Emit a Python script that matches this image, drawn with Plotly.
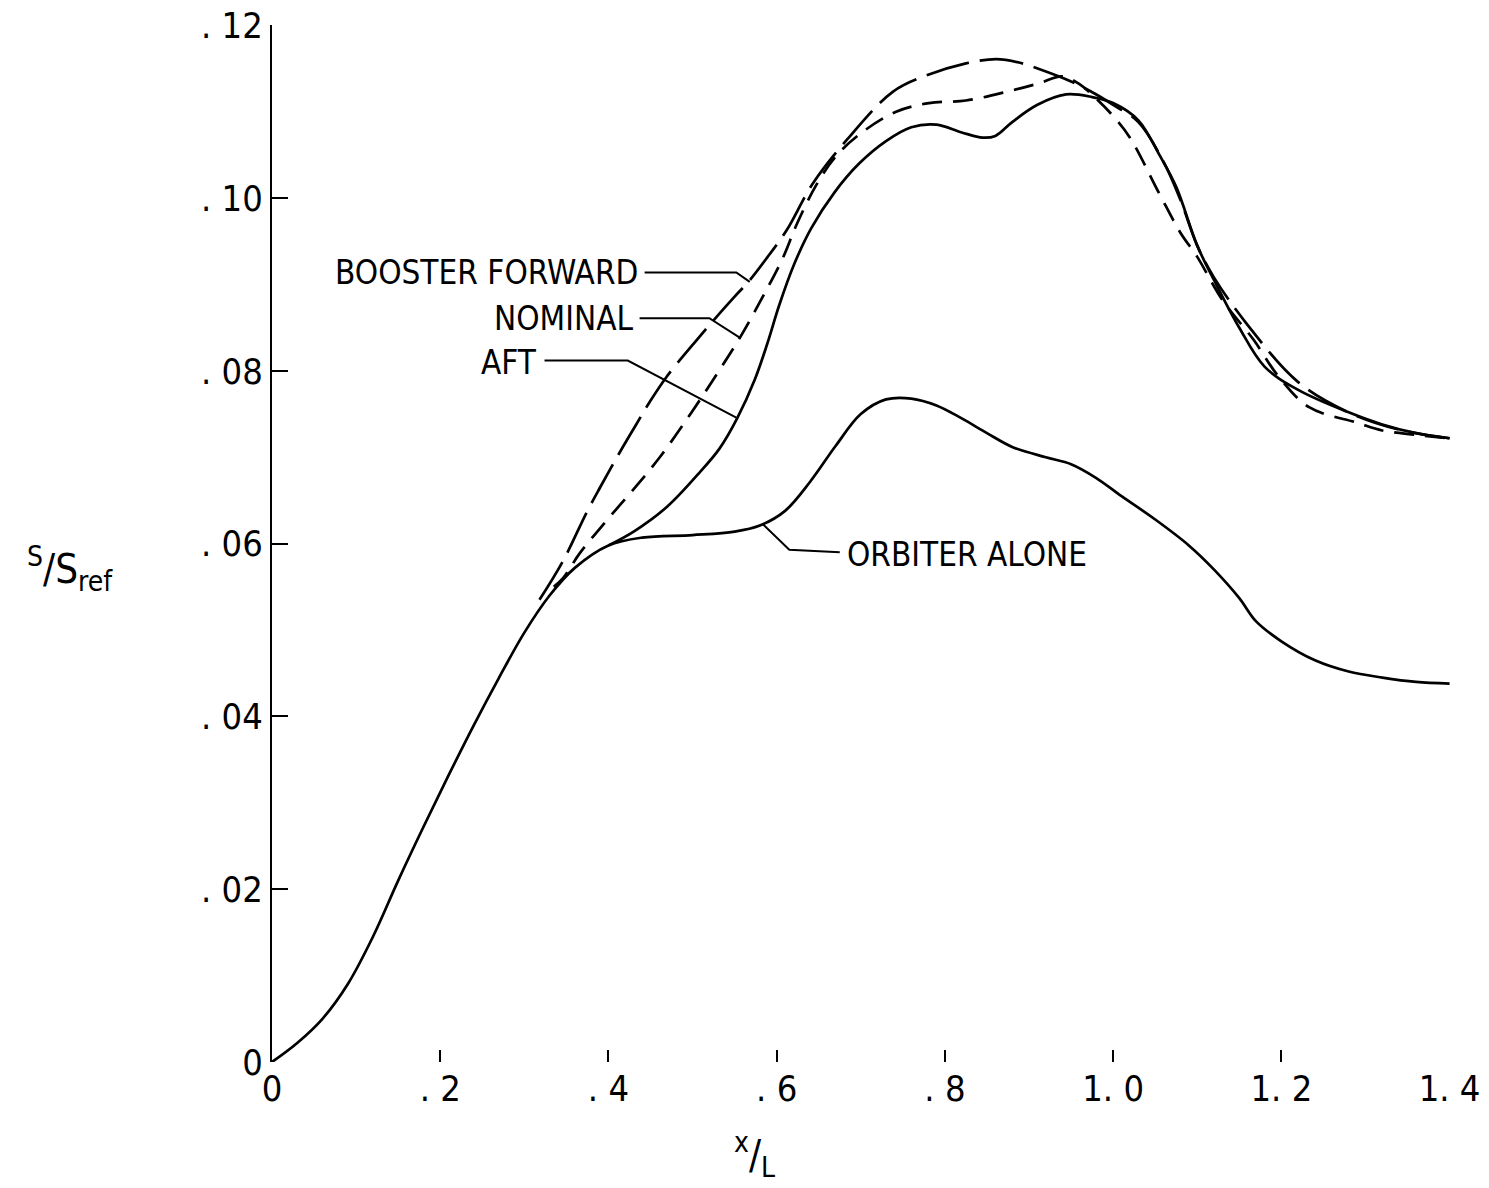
import plotly.graph_objects as go

# ---------------- data ----------------
orbiter_x = [0, 0.03, 0.06, 0.09, 0.12, 0.15, 0.18, 0.21, 0.24, 0.27, 0.30, 0.33, 0.36, 0.40,
             0.44, 0.50, 0.55, 0.58, 0.61, 0.64, 0.67, 0.70, 0.73, 0.76, 0.79, 0.82, 0.85,
             0.88, 0.92, 0.95, 0.98, 1.01, 1.05, 1.09, 1.12, 1.15, 1.17, 1.20, 1.24, 1.28,
             1.32, 1.36, 1.40]
orbiter_y = [0, 0.0022, 0.0050, 0.0090, 0.0145, 0.0210, 0.0272, 0.0332, 0.0390, 0.0445, 0.0497,
             0.0540, 0.0572, 0.0598, 0.0607, 0.0610, 0.0614, 0.0621, 0.0638, 0.0672, 0.0713,
             0.0750, 0.0767, 0.0768, 0.0760, 0.0745, 0.0728, 0.0712, 0.0700, 0.0692, 0.0676,
             0.0655, 0.0628, 0.0598, 0.0570, 0.0537, 0.0510, 0.0487, 0.0465, 0.0452, 0.0445,
             0.0440, 0.0438]

aft_x = [0.40, 0.43, 0.47, 0.508, 0.532, 0.553, 0.574, 0.589, 0.603, 0.621, 0.641, 0.669,
         0.698, 0.73, 0.76, 0.79, 0.82, 0.845, 0.86, 0.88, 0.91, 0.944, 0.975, 1.00, 1.03,
         1.055, 1.075, 1.10, 1.12, 1.15, 1.18, 1.22, 1.28, 1.32, 1.36, 1.40]
aft_y = [0.0598, 0.0614, 0.0643, 0.0682, 0.0710, 0.0745, 0.0790, 0.0832, 0.0876, 0.0924,
         0.0965, 0.1007, 0.1040, 0.1066, 0.1082, 0.1085, 0.1076, 0.1070, 0.1072, 0.1088,
         0.1108, 0.1120, 0.1117, 0.1110, 0.1090, 0.1050, 0.1013, 0.0945, 0.0905, 0.0850,
         0.0805, 0.0778, 0.0752, 0.0738, 0.0728, 0.0722]

forward_x = [0.318, 0.346, 0.374, 0.39, 0.413, 0.433, 0.449, 0.469, 0.50, 0.528, 0.55, 0.568,
             0.59, 0.612, 0.643, 0.683, 0.738, 0.778, 0.825, 0.861, 0.888, 0.916, 0.95, 0.98,
             1.00, 1.03, 1.06, 1.08, 1.10, 1.12, 1.16, 1.22, 1.28, 1.34, 1.40]
forward_y = [0.0535, 0.0580, 0.0636, 0.0665, 0.0705, 0.0738, 0.0764, 0.0793, 0.0830, 0.0862,
             0.0886, 0.0905, 0.0933, 0.0963, 0.1017, 0.1067, 0.1123, 0.1142, 0.1156, 0.1161,
             0.1157, 0.1148, 0.1135, 0.1120, 0.1108, 0.1088, 0.1042, 0.0998, 0.0945, 0.0908,
             0.0853, 0.0787, 0.0752, 0.0732, 0.0722]

nominal_x = [0.335, 0.346, 0.366, 0.398, 0.429, 0.461, 0.496, 0.528, 0.556, 0.583, 0.607,
             0.624, 0.647, 0.67, 0.70, 0.742, 0.781, 0.825, 0.873, 0.912, 0.939, 0.96, 0.98,
             1.00, 1.02, 1.055, 1.08, 1.10, 1.13, 1.167, 1.197, 1.233, 1.29, 1.32, 1.36, 1.40]
nominal_y = [0.0550, 0.0560, 0.0589, 0.0627, 0.0662, 0.0700, 0.0748, 0.0795, 0.0838, 0.0885,
             0.0930, 0.0970, 0.1015, 0.1048, 0.1075, 0.1100, 0.1110, 0.1113, 0.1123, 0.1133,
             0.1141, 0.1132, 0.1115, 0.1095, 0.1070, 0.1005, 0.0960, 0.0932, 0.0882, 0.0836,
             0.0793, 0.0758, 0.0740, 0.0731, 0.0726, 0.0722]

x_tickvals = [0, 0.2, 0.4, 0.6, 0.8, 1.0, 1.2, 1.4]
x_ticktext = ["0", ". 2", ". 4", ". 6", ". 8", "1. 0", "1. 2", "1. 4"]
y_tickvals = [0, 0.02, 0.04, 0.06, 0.08, 0.10, 0.12]
y_ticktext = ["0", ". 02", ". 04", ". 06", ". 08", ". 10", ". 12"]

labels = ["BOOSTER FORWARD", "NOMINAL", "AFT", "ORBITER ALONE"]

# ---------------- styling / layout ----------------
FONT = "Liberation Sans Narrow, DejaVu Sans Condensed, Liberation Sans, sans-serif"
INK = "#000000"

fig = go.Figure()
series = [
    (orbiter_x, orbiter_y, "solid", labels[3]),
    (aft_x, aft_y, "solid", labels[2]),
    (nominal_x, nominal_y, "20px,11px", labels[1]),
    (forward_x, forward_y, "44px,11px", labels[0]),
]
for xs, ys, dash, name in series:
    fig.add_trace(go.Scatter(x=xs, y=ys, mode="lines", name=name, line_shape="spline",
                             line=dict(color=INK, width=2.7, dash=dash),
                             cliponaxis=False, showlegend=False))

# leader lines for the labels (data coordinates)
leaders = [
    ([0.443, 0.552, 0.568], [0.0914, 0.0914, 0.0903]),
    ([0.437, 0.520, 0.557], [0.0861, 0.0861, 0.0838]),
    ([0.324, 0.423, 0.552], [0.0812, 0.0812, 0.0746]),
    ([0.675, 0.615, 0.583], [0.0590, 0.0593, 0.0623]),
]
for lx, ly in leaders:
    fig.add_trace(go.Scatter(x=lx, y=ly, mode="lines", line=dict(color=INK, width=2),
                             showlegend=False, hoverinfo="skip"))

label_pos = [
    (0.437, 0.0914, "right"),
    (0.432, 0.0861, "right"),
    (0.318, 0.0810, "right"),
    (0.681, 0.0587, "left"),
]
for text, (ax_, ay_, anc) in zip(labels, label_pos):
    fig.add_annotation(x=ax_, y=ay_, text=text, showarrow=False, xanchor=anc, yanchor="middle",
                       font=dict(family=FONT, size=33, color=INK))

# axis titles
fig.add_annotation(xref="paper", yref="paper", x=-0.1715, y=0.475, xanchor="center",
                   yanchor="middle", text="<sup>S</sup>/S<sub>ref</sub>", showarrow=False,
                   font=dict(family=FONT, size=40, color=INK))
fig.add_annotation(xref="paper", yref="paper", x=0.41, y=-0.09, xanchor="center",
                   yanchor="middle", text="<sup>x</sup>/<sub>L</sub>", showarrow=False,
                   font=dict(family=FONT, size=40, color=INK))

fig.update_layout(
    width=1489, height=1188,
    margin=dict(l=264, r=47, t=17, b=134, autoexpand=False),
    paper_bgcolor="white", plot_bgcolor="white",
    font=dict(family=FONT, color=INK),
    xaxis=dict(range=[0, 1.4005], showgrid=False, zeroline=False, showline=False,
               automargin=False, ticklabeloverflow="allow",
               tickvals=x_tickvals, ticktext=x_ticktext, ticks="inside", ticklen=12,
               tickwidth=2, tickcolor=INK, tickfont=dict(family=FONT, size=36, color=INK),
               ticklabelstandoff=2),
    yaxis=dict(range=[0, 0.12004], showgrid=False, zeroline=False, showline=True,
               automargin=False, ticklabeloverflow="allow",
               linecolor=INK, linewidth=2, tickvals=y_tickvals, ticktext=y_ticktext,
               ticks="inside", ticklen=16, tickwidth=2, tickcolor=INK,
               tickfont=dict(family=FONT, size=36, color=INK)),
)

fig.write_html("out.html")
